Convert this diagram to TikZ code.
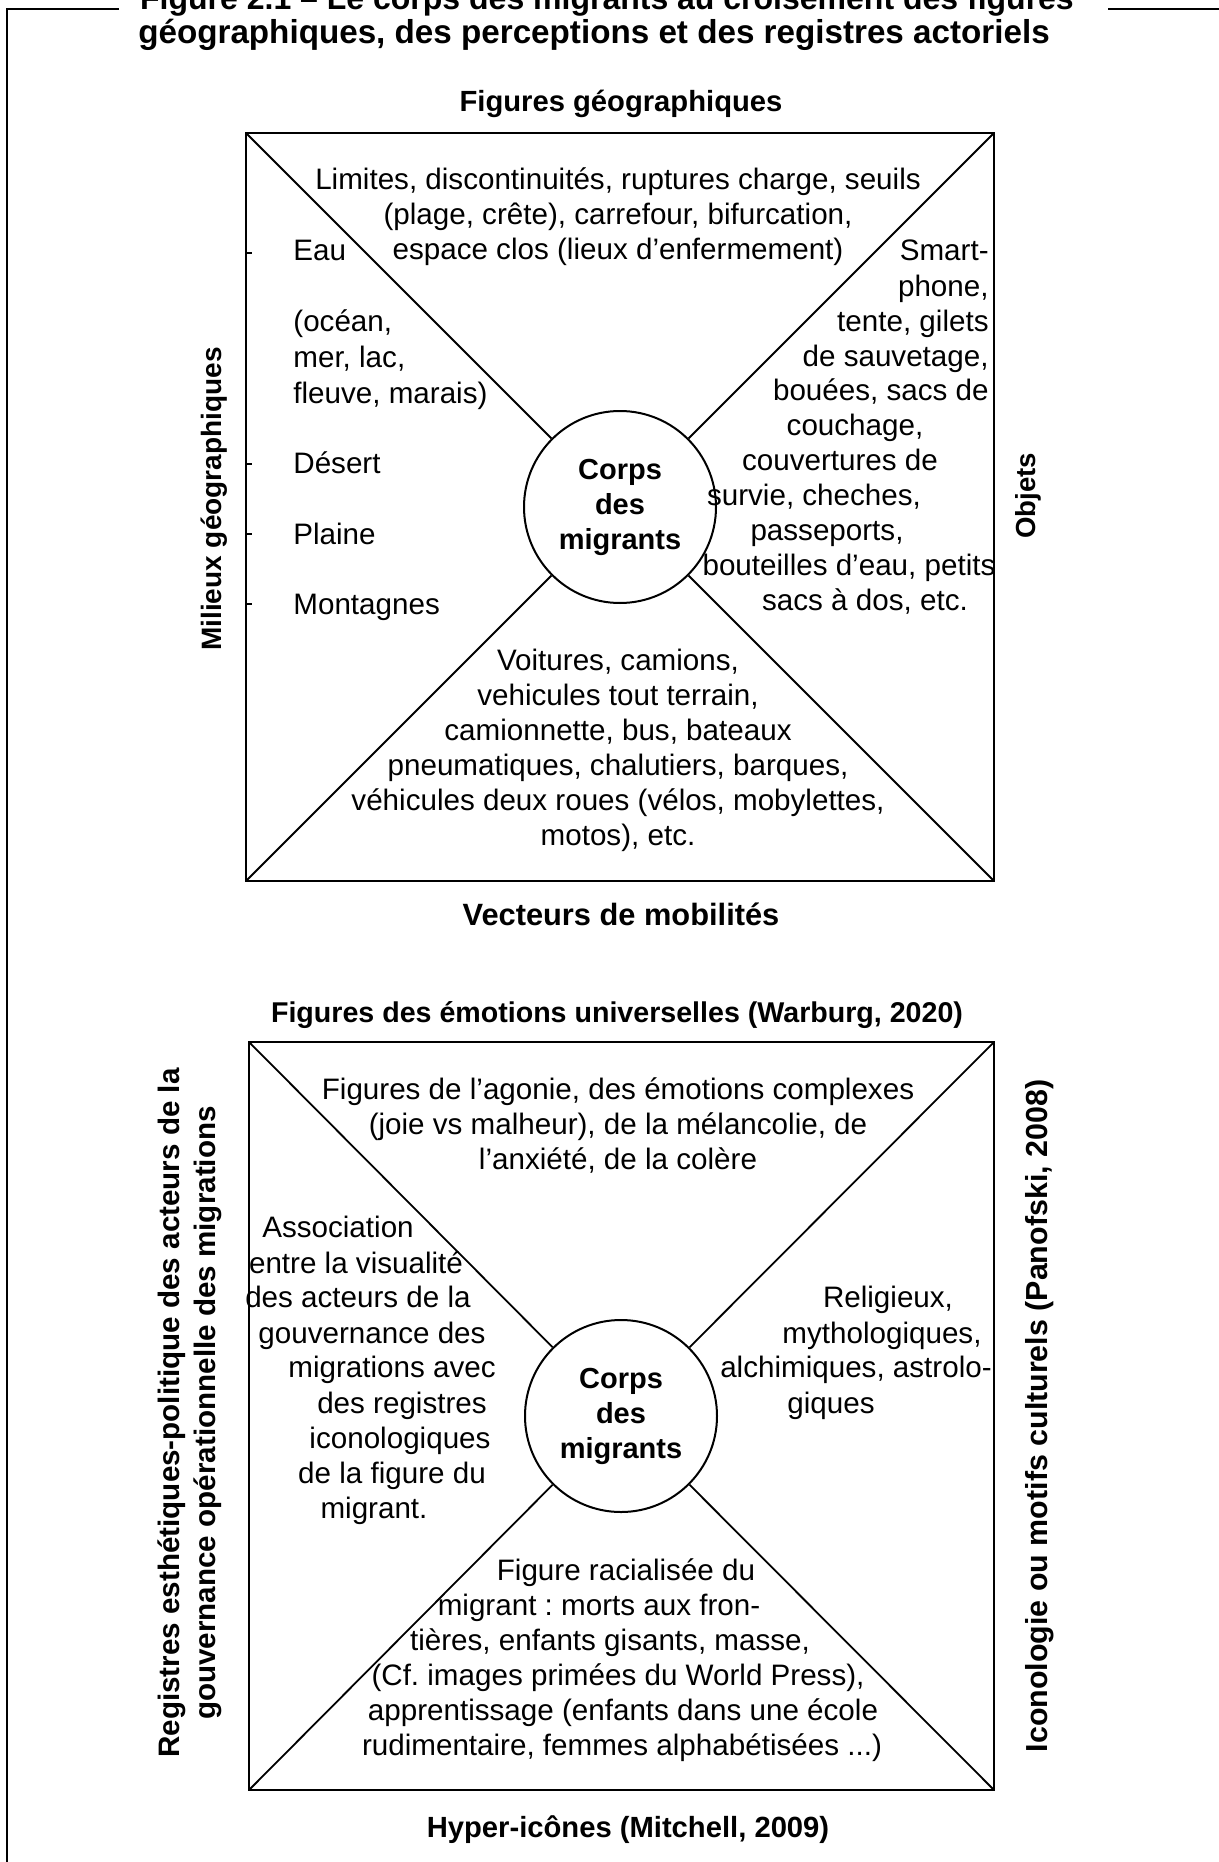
\documentclass[tikz,border=0pt]{standalone}
\usepackage{fontspec}
\setmainfont{Liberation Sans}
\frenchspacing
\begin{document}
\frenchspacing
\begin{tikzpicture}[x=0.5pt,y=-0.5pt,
  bodytxt/.style={font=\fontsize{14.8}{17.5}\selectfont\frenchspacing, inner sep=0pt, align=center},
  ln/.style={bodytxt, text height=14pt, text depth=3pt},
  hd/.style={font=\fontsize{#1}{18}\selectfont\bfseries, inner sep=0pt},
  ttl/.style={font=\fontsize{#1}{19}\selectfont\bfseries, inner sep=0pt},
  sidelab/.style={font=\fontsize{#1}{17.8}\selectfont\bfseries, inner sep=0pt, rotate=90, align=center},
  boxline/.style={line width=1.4pt},
  diagl/.style={line width=0.9pt},
  frameline/.style={line width=1.1pt},
  core/.style={circle, draw, line width=1pt, minimum size=96pt, inner sep=0pt, align=center, font=\fontsize{14.5}{17.5}\selectfont\bfseries},
  tick/.style={line width=0.6pt}
]
\useasboundingbox (0,0) rectangle (1219,1862);

% outer frame and title
\coordinate (fL) at (119,9);
\coordinate (fC) at (7,9);
\coordinate (fB) at (7,1870);
\coordinate (fR1) at (1108,9);
\coordinate (fR2) at (1225,9);
\draw[frameline] (fL) -- (fC) -- (fB);
\draw[frameline] (fR1) -- (fR2);
\node[ttl=16.0, anchor=base] (ttl1) at (607,10) {Figure 2.1 – Le corps des migrants au croisement des figures};
\node[ttl=16.6, anchor=base] (ttl2) at (594,44) {géographiques, des perceptions et des registres actoriels};

% ================= TOP DIAGRAM =================
\node[hd=14.6] (hTop) at (621,103.5) {Figures géographiques};
\node[hd=15.4] (hBot) at (621,914) {Vecteurs de mobilités};
\node[sidelab=14] (sL1) at (214,499) {Milieux géographiques};
\node[sidelab=13.8] (sR1) at (1028,496) {Objets};

\coordinate (tNW) at (246,133);
\coordinate (tNE) at (994,133);
\coordinate (tSW) at (246,881);
\coordinate (tSE) at (994,881);
\draw[boxline] (tNW) -- (tNE) -- (tSE) -- (tSW) -- cycle;
\node[core] (core1) at (620,507) {Corps\\des\\migrants};
\draw[diagl] (tNW) -- (core1);
\draw[diagl] (tNE) -- (core1);
\draw[diagl] (tSW) -- (core1);
\draw[diagl] (tSE) -- (core1);

\foreach \y [count=\i] in {253,464,534,604}{
  \coordinate (tk\i a) at (246,\y);
  \coordinate (tk\i b) at (252,\y);
  \draw[tick] (tk\i a) -- (tk\i b);
}

\node[bodytxt] (topTxt) at (618,216.5) {Limites, discontinuités, ruptures charge, seuils\\(plage, crête), carrefour, bifurcation,\\espace clos (lieux d’enfermement)};

\foreach \y/\t [count=\i] in {250/{Eau},320/{(océan,},356/{mer, lac,},392/{fleuve, marais)},462/{Désert},533/{Plaine},603/{Montagnes}}
  \node[ln, anchor=west] (lt\i) at (293,\y) {\t};

\foreach \y/\t [count=\i] in {250/{Smart-},285/{phone,},320/{tente, gilets},355/{de sauvetage,},389/{bouées, sacs de}}
  \node[ln, anchor=east] (ra\i) at (989,\y) {\t};
\foreach \x/\y/\t [count=\i] in {855/424/{couchage,},840/459/{couvertures de},814/494/{survie, cheches,},827/529/{passeports,},849/564/{bouteilles d’eau, petits},865/599/{sacs à dos, etc.}}
  \node[ln] (rb\i) at (\x,\y) {\t};

\node[bodytxt] (botTxt) at (618,750.5) {Voitures, camions,\\vehicules tout terrain,\\camionnette, bus, bateaux\\pneumatiques, chalutiers, barques,\\véhicules deux roues (vélos, mobylettes,\\motos), etc.};

% ================= BOTTOM DIAGRAM =================
\node[hd=14.3] (hTop2) at (617,1015.5) {Figures des émotions universelles (Warburg, 2020)};
\node[hd=14.6] (hBot2) at (628,1829.5) {Hyper-icônes (Mitchell, 2009)};
\node[sidelab=14.8] (sL2) at (190,1413) {Registres esthétiques-politique des acteurs de la\\gouvernance opérationnelle des migrations};
\node[sidelab=15.2] (sR2) at (1040,1416) {Iconologie ou motifs culturels (Panofski, 2008)};

\coordinate (bNW) at (249,1042);
\coordinate (bNE) at (994,1042);
\coordinate (bSW) at (249,1790);
\coordinate (bSE) at (994,1790);
\draw[boxline] (bNW) -- (bNE) -- (bSE) -- (bSW) -- cycle;
\node[core] (core2) at (621,1416) {Corps\\des\\migrants};
\draw[diagl] (bNW) -- (core2);
\draw[diagl] (bNE) -- (core2);
\draw[diagl] (bSW) -- (core2);
\draw[diagl] (bSE) -- (core2);

\node[bodytxt] (topTxt2) at (618,1125.5) {Figures de l’agonie, des émotions complexes\\(joie vs malheur), de la mélancolie, de\\l’anxiété, de la colère};

\foreach \x/\y/\t [count=\i] in {338/1226/{Association},356/1262/{entre la visualité},358/1296/{des acteurs de la},372/1332/{gouvernance des},392/1366/{migrations avec},402/1402/{des registres},400/1437/{iconologiques},392/1472/{de la figure du},374/1507/{migrant.}}
  \node[ln] (lb\i) at (\x,\y) {\t};

\foreach \x/\y/\t [count=\i] in {888/1296/{Religieux,},882/1332/{mythologiques,},856/1366/{alchimiques, astrolo-},831/1402/{giques}}
  \node[ln] (rr\i) at (\x,\y) {\t};

\foreach \x/\y/\t [count=\i] in {626/1569/{Figure racialisée du},599/1604/{migrant : morts aux fron-},610/1639/{tières, enfants gisants, masse,},618/1674/{(Cf. images primées du World Press),},623/1709/{apprentissage (enfants dans une école},622/1744/{rudimentaire, femmes alphabétisées ...)}}
  \node[ln] (bb\i) at (\x,\y) {\t};

\end{tikzpicture}
\end{document}
